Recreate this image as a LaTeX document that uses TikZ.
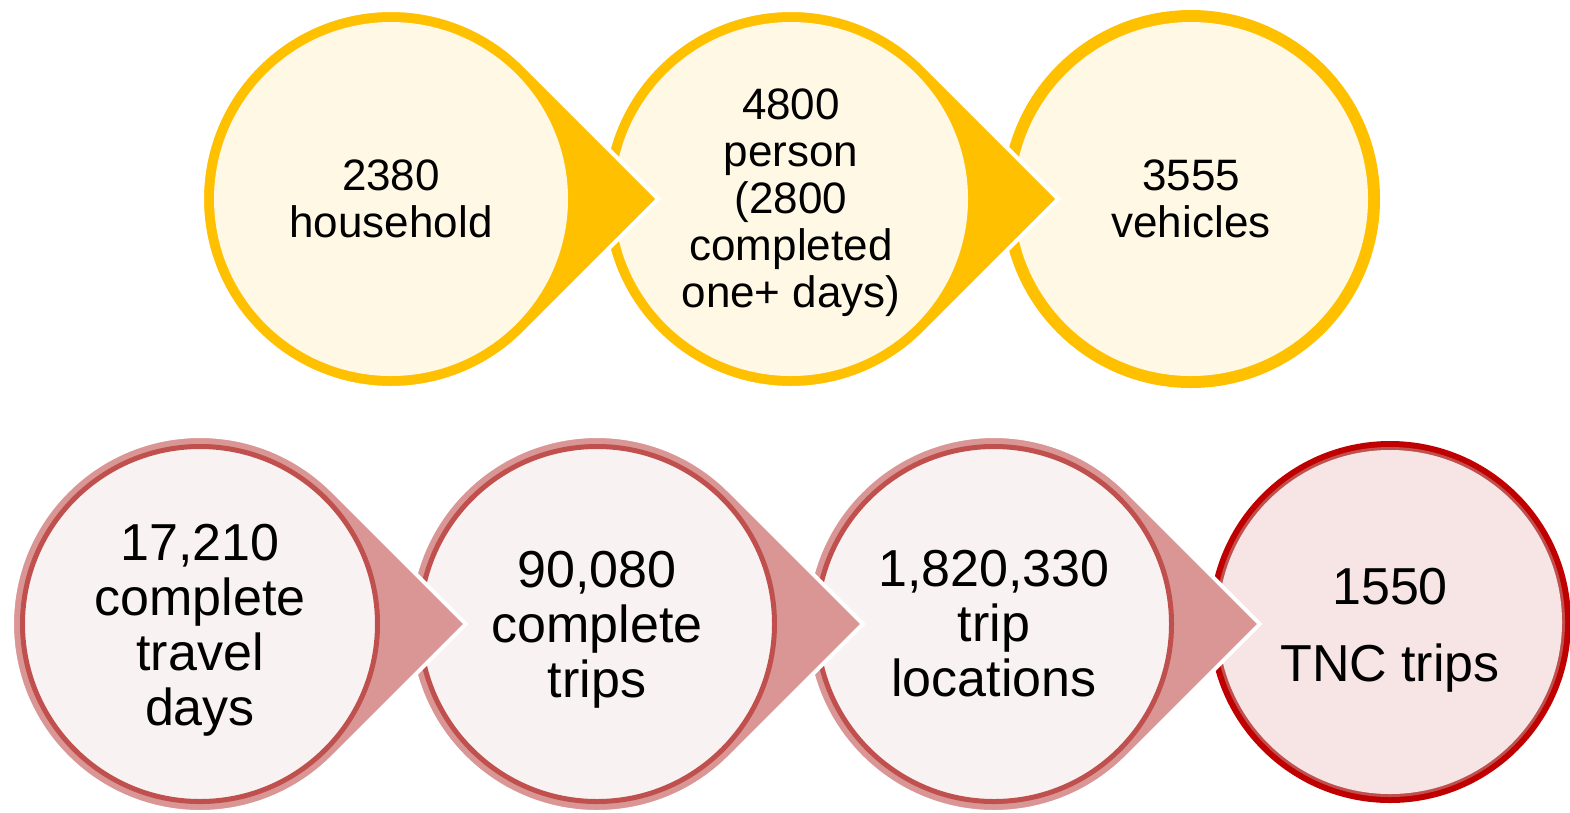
\documentclass[tikz,border=0pt]{standalone}
\usepackage{fontspec}
\setmainfont{Liberation Sans}
\definecolor{ringyellow}{HTML}{FFC000}
\definecolor{creamfill}{HTML}{FFF8E5}
\definecolor{ringpink}{HTML}{D99694}
\definecolor{ringred}{HTML}{C0504D}
\definecolor{palefill}{HTML}{F9F2F2}
\definecolor{tncred}{HTML}{C00000}
\definecolor{tncfill}{HTML}{F7E5E5}
\tikzset{
	topdrop/.style = {fill = ringyellow, draw = white, line width = 4pt},
	topdisc/.style = {fill = creamfill},
	lowdrop/.style = {fill = ringpink, draw = white, line width = 4pt},
	lowdisc/.style = {fill = palefill, draw = ringred, line width = 5pt},
	toplabel/.style = {align = center, font = \fontsize{44}{47}\selectfont},
	lowlabel/.style = {align = center, font = \fontsize{52}{55}\selectfont}
}
\begin{document}
\begin{tikzpicture}[x = 1pt, y = -1pt]
	\useasboundingbox (0, 0) rectangle (1570, 812);
	%%%%%%%%% top row, drawn right to left
	\fill[ringyellow] (1191, 199) circle[radius = 189];
	\fill[topdisc] (1191, 199) circle[radius = 177];
	\filldraw[topdrop] (791, 199) ++(45:189) -- ++(-45:189) -- ++(-135:189) arc[start angle = -45, end angle = -315, radius = 189] -- cycle;
	\fill[topdisc] (791, 199) circle[radius = 177];
	\filldraw[topdrop] (391, 199) ++(45:189) -- ++(-45:189) -- ++(-135:189) arc[start angle = -45, end angle = -315, radius = 189] -- cycle;
	\fill[topdisc] (391, 199) circle[radius = 177];
	\node[toplabel] (hh) at (391, 199) {2380\\household};
	\node[toplabel] (pers) at (791, 203) {4800\\person\\(2800\\completed\\one+ days)};
	\node[toplabel] (veh) at (1191, 199) {3555\\vehicles};
	%%%%%%%%% bottom row, drawn right to left
	\fill[tncred] (1390, 622) circle[radius = 181];
	\fill[ringred] (1390, 622) circle[radius = 175];
	\fill[tncfill] (1390, 622) circle[radius = 172];
	\filldraw[lowdrop] (994, 624) ++(45:188) -- ++(-45:188) -- ++(-135:188) arc[start angle = -45, end angle = -315, radius = 188] -- cycle;
	\filldraw[lowdisc] (994, 624) circle[radius = 177.5];
	\filldraw[lowdrop] (597, 624) ++(45:188) -- ++(-45:188) -- ++(-135:188) arc[start angle = -45, end angle = -315, radius = 188] -- cycle;
	\filldraw[lowdisc] (597, 624) circle[radius = 177.5];
	\filldraw[lowdrop] (200, 624) ++(45:188) -- ++(-45:188) -- ++(-135:188) arc[start angle = -45, end angle = -315, radius = 188] -- cycle;
	\filldraw[lowdisc] (200, 624) circle[radius = 177.5];
	\node[lowlabel] (tdays) at (200, 630) {17,210\\complete\\travel\\days};
	\node[lowlabel] (trips) at (597, 630) {90,080\\complete\\trips};
	\node[lowlabel] (locs) at (994, 624) {1,820,330\\trip\\locations};
	\node[lowlabel] (tnc) at (1390, 630) {1550\\[22pt]TNC trips};
\end{tikzpicture}
\end{document}
